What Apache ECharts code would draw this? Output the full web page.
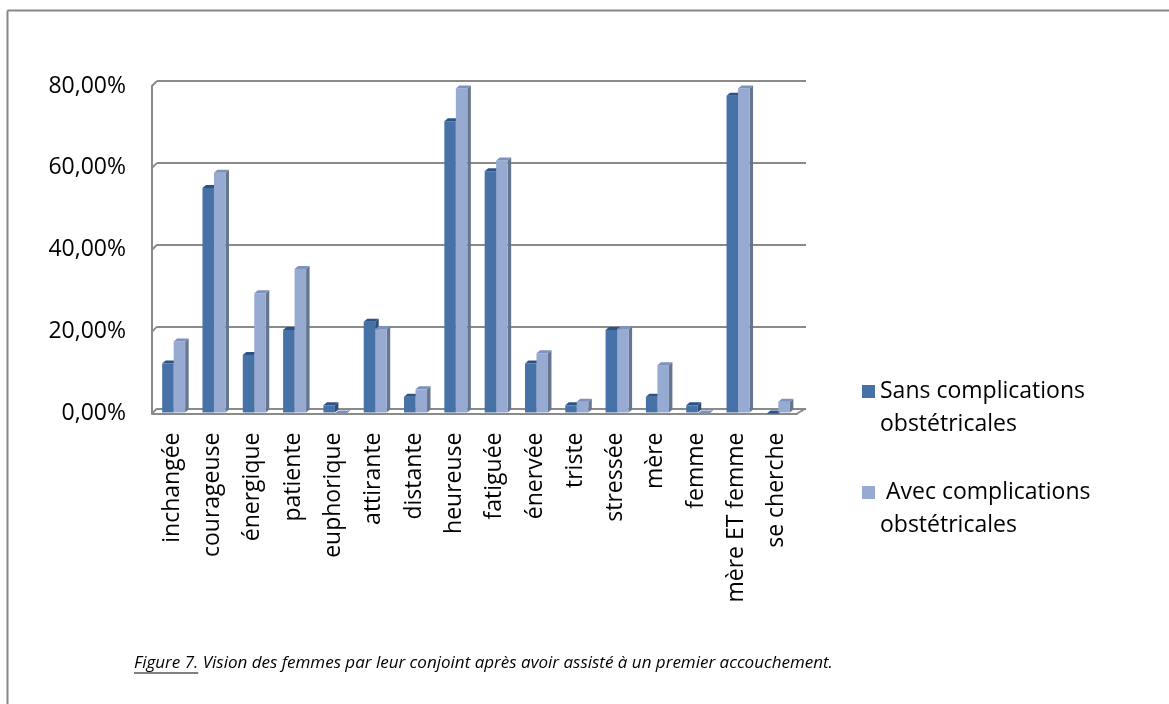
<!DOCTYPE html>
<html>
<head>
<meta charset="utf-8">
<script src="https://cdn.jsdelivr.net/npm/echarts@6/dist/echarts.min.js"></script>
<style>
  html, body { margin: 0; padding: 0; background: #fff; }
  #chart { width: 1169px; height: 704px; }
</style>
</head>
<body>
<div id="chart"></div>
<script>
// données
var categories = ['inchangée', 'courageuse', 'énergique', 'patiente', 'euphorique', 'attirante', 'distante',
  'heureuse', 'fatiguée', 'énervée', 'triste', 'stressée', 'mère', 'femme', 'mère ET femme', 'se cherche'];
var sansValues = [0.122, 0.551, 0.143, 0.204, 0.020, 0.224, 0.041, 0.714, 0.592, 0.122, 0.020, 0.204, 0.041, 0.020, 0.776, 0.000];
var avecValues = [0.176, 0.588, 0.294, 0.353, 0.000, 0.206, 0.059, 0.794, 0.618, 0.147, 0.029, 0.206, 0.118, 0.000, 0.794, 0.029];
var yTicks = [0, 0.2, 0.4, 0.6, 0.8];
var seriesNames = ['Sans complications obstétricales', 'Avec complications obstétricales'];
var captionLabel = 'Figure 7.';
var captionText = ' Vision des femmes par leur conjoint après avoir assisté à un premier accouchement.';

var FONT = 'Open Sans';
var WALL = '#8a8a8a';
// plan avant (barres) et mur du fond (quadrillage), décalés pour l'effet 3D
var front = { left: 152, top: 86, width: 645, height: 327.5 };
var back = { left: 157, top: 81, width: 649, height: 327.5 };

var chart = echarts.init(document.getElementById('chart'));

function bar3d(idx, colors) {
  return function (params, api) {
    var cat = api.value(0), val = api.value(1);
    var base = api.coord([cat, 0]);
    var head = api.coord([cat, val]);
    var w = 11.5, dx = 3.5, dy = 3;
    var x0 = base[0] + 1.5 + (idx === 0 ? -w : 0);
    var x1 = x0 + w;
    var yb = base[1] - 1, yt = head[1];
    return {
      type: 'group',
      children: [
        { type: 'polygon', shape: { points: [[x1, yb], [x1 + dx, yb - dy], [x1 + dx, yt - dy], [x1, yt]] },
          style: { fill: colors.side } },
        { type: 'rect', shape: { x: x0, y: yt, width: w, height: Math.max(yb - yt, 0) },
          style: { fill: colors.front } },
        { type: 'polygon', shape: { points: [[x0, yt], [x0 + dx, yt - dy], [x1 + dx, yt - dy], [x1, yt]] },
          style: { fill: colors.top } }
      ]
    };
  };
}

var sansColors = { front: '#4672a8', top: '#2d5386', side: '#2f4f77' };
var avecColors = { front: '#96aad2', top: '#7d92bc', side: '#66768f' };

var option = {
  backgroundColor: '#fff',
  animation: false,
  textStyle: { fontFamily: FONT },
  legend: {
    orient: 'vertical',
    left: 862,
    top: 342,
    padding: 0,
    icon: 'rect',
    itemWidth: 13,
    itemHeight: 13,
    itemGap: 2,
    data: seriesNames,
    // ligne vide en tête : la première ligne du texte se cale sur le carré
    formatter: function (name) {
      var t = name.replace(' obst', '\nobst');
      return '\n' + (name === seriesNames[1] ? ' ' + t : t);
    },
    textStyle: { fontSize: 23, color: '#000', lineHeight: 33 }
  },
  grid: [
    { left: front.left, top: front.top, width: front.width, height: front.height },
    { left: back.left, top: back.top, width: back.width, height: back.height }
  ],
  xAxis: [
    {
      type: 'category', gridIndex: 0, data: categories,
      axisLine: { lineStyle: { color: WALL, width: 2 } },
      axisTick: { show: false },
      axisLabel: { rotate: 90, margin: 19, fontSize: 23, color: '#000', fontFamily: FONT }
    },
    {
      type: 'category', gridIndex: 1, data: categories,
      axisLine: { show: false }, axisTick: { show: false }, axisLabel: { show: false }
    }
  ],
  yAxis: [
    {
      type: 'value', gridIndex: 0, min: 0, max: 0.8, interval: 0.2,
      axisLine: { show: true, lineStyle: { color: WALL, width: 2 } },
      axisTick: { show: false },
      splitLine: { show: false },
      axisLabel: {
        margin: 26, fontSize: 23, color: '#000', fontFamily: FONT,
        formatter: function (v) { return (v * 100).toFixed(2).replace('.', ',') + '%'; }
      }
    },
    {
      type: 'value', gridIndex: 1, min: 0, max: 0.8, interval: 0.2,
      axisLine: { show: false }, axisTick: { show: false }, axisLabel: { show: false },
      splitLine: { lineStyle: { color: WALL, width: 2 } }
    }
  ],
  series: [
    {
      name: seriesNames[0], type: 'custom', xAxisIndex: 0, yAxisIndex: 0,
      itemStyle: { color: sansColors.front },
      renderItem: bar3d(0, sansColors),
      data: sansValues.map(function (v, i) { return [i, v]; })
    },
    {
      name: seriesNames[1], type: 'custom', xAxisIndex: 0, yAxisIndex: 0,
      itemStyle: { color: avecColors.front },
      renderItem: bar3d(1, avecColors),
      data: avecValues.map(function (v, i) { return [i, v]; })
    }
  ]
};
chart.setOption(option);

// arêtes 3D du mur de gauche et du sol
var edges = [];
yTicks.forEach(function (t) {
  var yf = chart.convertToPixel({ yAxisIndex: 0 }, t);
  var yb = chart.convertToPixel({ yAxisIndex: 1 }, t);
  edges.push({ type: 'line', shape: { x1: front.left, y1: yf, x2: back.left, y2: yb },
    style: { stroke: WALL, lineWidth: 2 } });
});
var y0f = chart.convertToPixel({ yAxisIndex: 0 }, 0);
var y0b = chart.convertToPixel({ yAxisIndex: 1 }, 0);
edges.push({ type: 'line', shape: { x1: front.left + front.width, y1: y0f, x2: back.left + back.width, y2: y0b },
  style: { stroke: WALL, lineWidth: 2 } });

// légende de la figure (italique, "Figure 7." souligné)
var capFont = 'italic 17px "' + FONT + '"';
var ctx = document.createElement('canvas').getContext('2d');
ctx.font = capFont;
var labelW = ctx.measureText(captionLabel).width;
var capX = 134, capY = 663;

chart.setOption({
  graphic: edges.concat([
    { type: 'line', shape: { x1: 7.5, y1: 10.5, x2: 1169, y2: 10.5 }, style: { stroke: '#888', lineWidth: 2 } },
    { type: 'line', shape: { x1: 7.5, y1: 10.5, x2: 7.5, y2: 704 }, style: { stroke: '#888', lineWidth: 2 } },
    { type: 'text', left: capX, top: capY - 8,
      style: { text: captionLabel + captionText, font: capFont, fill: '#000' } },
    { type: 'line', shape: { x1: capX, y1: capY + 10, x2: capX + labelW, y2: capY + 10 },
      style: { stroke: '#000', lineWidth: 1 } }
  ])
});
</script>
</body>
</html>
